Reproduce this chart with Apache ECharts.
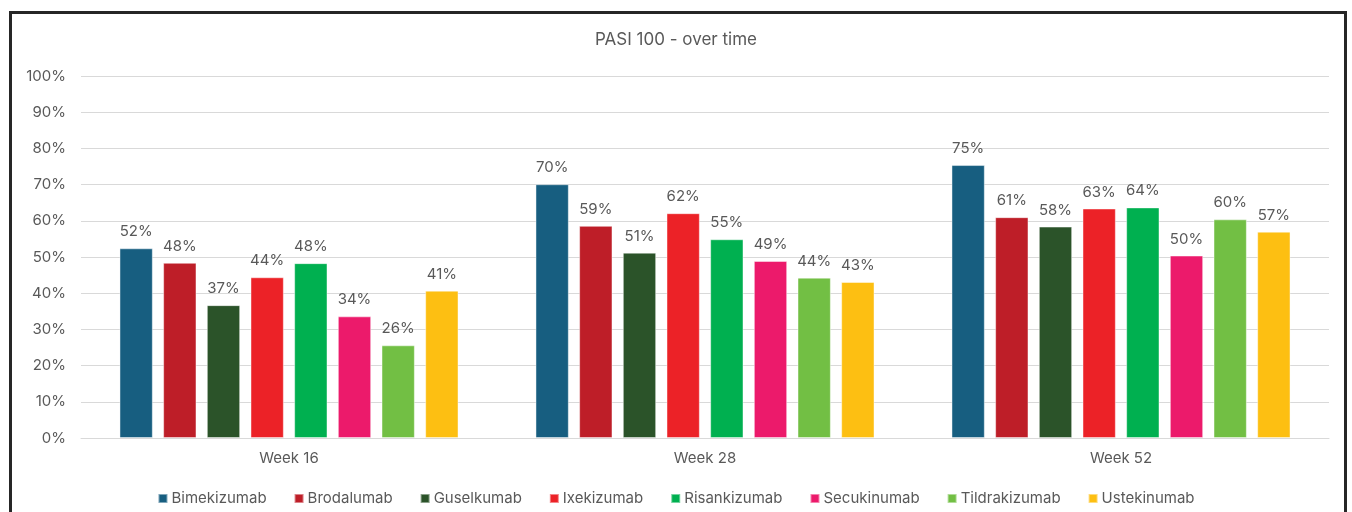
<!DOCTYPE html>
<html>
<head>
<meta charset="utf-8">
<title>PASI 100 - over time</title>
<script src="https://cdn.jsdelivr.net/npm/echarts@6/dist/echarts.min.js"></script>
<style>
  html, body { margin: 0; padding: 0; background: #fff; }
  #chart { width: 1352px; height: 512px; }
</style>
</head>
<body>
<div id="chart"></div>
<script>
// categories and data (values in %)
const weeks = ['Week 16', 'Week 28', 'Week 52']
const drugs = ['Bimekizumab', 'Brodalumab', 'Guselkumab', 'Ixekizumab', 'Risankizumab', 'Secukinumab', 'Tildrakizumab', 'Ustekinumab']
const colors = ['#175E80', '#BE1E28', '#2B5329', '#EC2227', '#00B050', '#EC1A6B', '#72BF44', '#FDBF12']

const bimekizumab = [52.4, 70.1, 75.4]
const brodalumab = [48.4, 58.6, 61.0]
const guselkumab = [36.7, 51.2, 58.4]
const ixekizumab = [44.4, 62.1, 63.4]
const risankizumab = [48.3, 54.9, 63.7]
const secukinumab = [33.6, 48.9, 50.4]
const tildrakizumab = [25.6, 44.3, 60.4]
const ustekinumab = [40.7, 43.1, 57.0]

const seriesValues = [bimekizumab, brodalumab, guselkumab, ixekizumab, risankizumab, secukinumab, tildrakizumab, ustekinumab]

const textColor = '#595959'
const font = 'Inter, "Noto Sans", sans-serif'

const chart = echarts.init(document.getElementById('chart'))

const option = {
  animation: false,
  color: colors,
  textStyle: { fontFamily: font },
  title: {
    text: 'PASI 100 - over time',
    left: 'center',
    top: 26,
    textStyle: { color: textColor, fontSize: 17, fontWeight: 'normal', fontFamily: font }
  },
  grid: {
    left: 81,
    right: 23,
    top: 76,
    bottom: 74
  },
  legend: {
    data: drugs,
    left: 'center',
    top: 486,
    itemWidth: 9,
    itemHeight: 9,
    itemGap: 27,
    icon: 'rect',
    textStyle: { color: textColor, fontSize: 15, fontFamily: font, padding: [0, 0, 0, -1] }
  },
  xAxis: {
    type: 'category',
    data: weeks,
    axisLine: { show: true, lineStyle: { color: '#d9d9d9', width: 1 } },
    axisTick: { show: false },
    axisLabel: { color: textColor, fontSize: 15, margin: 13, fontFamily: font }
  },
  yAxis: {
    type: 'value',
    min: 0,
    max: 100,
    interval: 10,
    axisLine: { show: false },
    axisTick: { show: false },
    axisLabel: { color: textColor, fontSize: 15, margin: 15, fontFamily: font, formatter: v => v + '%' },
    splitLine: { lineStyle: { color: '#d9d9d9', width: 1 } }
  },
  series: drugs.map((name, i) => ({
    name: name,
    type: 'bar',
    data: seriesValues[i],
    barGap: '31%',
    barCategoryGap: '18.5%',
    itemStyle: { color: colors[i], borderColor: 'rgba(255,255,255,0.45)', borderWidth: 1 },
    label: {
      show: true,
      position: 'top',
      distance: 9,
      color: textColor,
      fontSize: 15,
      fontFamily: font,
      formatter: p => Math.round(p.value) + '%'
    }
  })),
  graphic: [{
    type: 'rect',
    silent: true,
    shape: { x: 10.5, y: 12.5, width: 1335, height: 520 },
    style: { fill: 'none', stroke: '#262626', lineWidth: 3 }
  }]
}

chart.setOption(option)
window.addEventListener('resize', () => chart.resize())
</script>
</body>
</html>
